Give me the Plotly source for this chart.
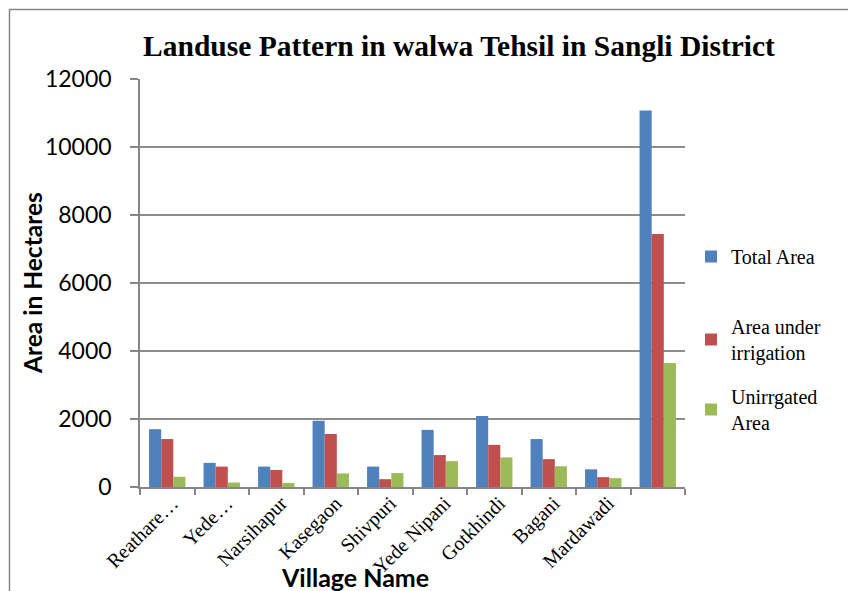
import plotly.graph_objects as go

villages = ["Reathare…", "Yede…", "Narsihapur", "Kasegaon", "Shivpuri",
            "Yede Nipani", "Gotkhindi", "Bagani", "Mardawadi", " "]
total_area = [1700, 710, 600, 1950, 600, 1680, 2090, 1410, 520, 11070]
irrigated = [1410, 600, 500, 1560, 230, 940, 1240, 820, 290, 7440]
unirrigated = [300, 130, 120, 400, 410, 760, 870, 610, 260, 3650]

series = [
    ("Total Area", total_area, "#4F81BD", "legend"),
    ("Area under<br>irrigation", irrigated, "#C0504D", "legend2"),
    ("Unirrgated<br>Area", unirrigated, "#9BBB59", "legend3"),
]

L, R, T, B = 140, 163, 79, 104
W, H = 848, 591
pw, ph = W - L - R, H - T - B

def px(x):
    return (x - L) / pw

def py(y):
    return (H - B - y) / ph

fig = go.Figure()
for name, vals, col, lg in series:
    fig.add_trace(go.Bar(x=villages, y=vals, name=name, marker_color=col,
                         marker_line_width=0, legend=lg, showlegend=True))

serif = "Liberation Serif, Times New Roman, serif"
sans = "Lato, Liberation Sans, sans-serif"
legfont = dict(family=serif, size=20, color="black")
legcommon = dict(font=legfont, bgcolor="rgba(0,0,0,0)", xanchor="left",
                 yanchor="top", itemwidth=30, x=px(691))

fig.update_layout(
    width=W, height=H,
    margin=dict(l=L, r=R, t=T, b=B, autoexpand=False),
    paper_bgcolor="white", plot_bgcolor="white",
    showlegend=True,
    barmode="group", bargap=0.333, bargroupgap=0,
    title=dict(text="<b>Landuse Pattern in walwa Tehsil in Sangli District</b>",
               font=dict(family=serif, size=29.5, color="black"),
               x=459 / W, xanchor="center", y=1 - 46 / H, yanchor="middle"),
    legend=dict(**legcommon, y=py(237)),
    legend2=dict(**legcommon, y=py(307)),
    legend3=dict(**legcommon, y=py(377)),
    xaxis=dict(type="category", showline=True, linecolor="#868686", linewidth=1.5,
               ticks="outside", tickson="boundaries", ticklen=6, tickcolor="#868686",
               tickwidth=1.5, tickangle=-45, automargin=False,
               ticklabelstandoff=-5, ticklabelshift=5,
               tickfont=dict(family=serif, size=20, color="black"),
               showgrid=False),
    yaxis=dict(range=[0, 12000], dtick=2000, tickformat="d", showline=True,
               linecolor="#868686", automargin=False,
               linewidth=1.5, ticks="outside", ticklen=8, tickcolor="#868686",
               tickwidth=1.5, showgrid=True, gridcolor="#8c8c8c", gridwidth=1.5,
               zeroline=False, ticklabelstandoff=14,
               tickfont=dict(family=sans, size=23, color="black")),
    annotations=[
        dict(text="<b>Village Name</b>", xref="paper", yref="paper",
             x=px(355), y=py(577), showarrow=False,
             font=dict(family=sans, size=25, color="black"),
             xanchor="center", yanchor="middle"),
        dict(text="<b>Area in Hectares</b>", xref="paper", yref="paper",
             x=px(32), y=py(283), showarrow=False, textangle=-90,
             font=dict(family=sans, size=24.5, color="black"),
             xanchor="center", yanchor="middle"),
    ],
    shapes=[dict(type="rect", xref="paper", yref="paper",
                 x0=px(9.5), y0=py(620), x1=px(880), y1=py(9.5),
                 line=dict(color="#868686", width=1.5), layer="below")],
)

fig.write_html("out.html", config={"displayModeBar": False},
               post_script="document.body.style.margin='0';document.body.style.overflow='hidden';")
